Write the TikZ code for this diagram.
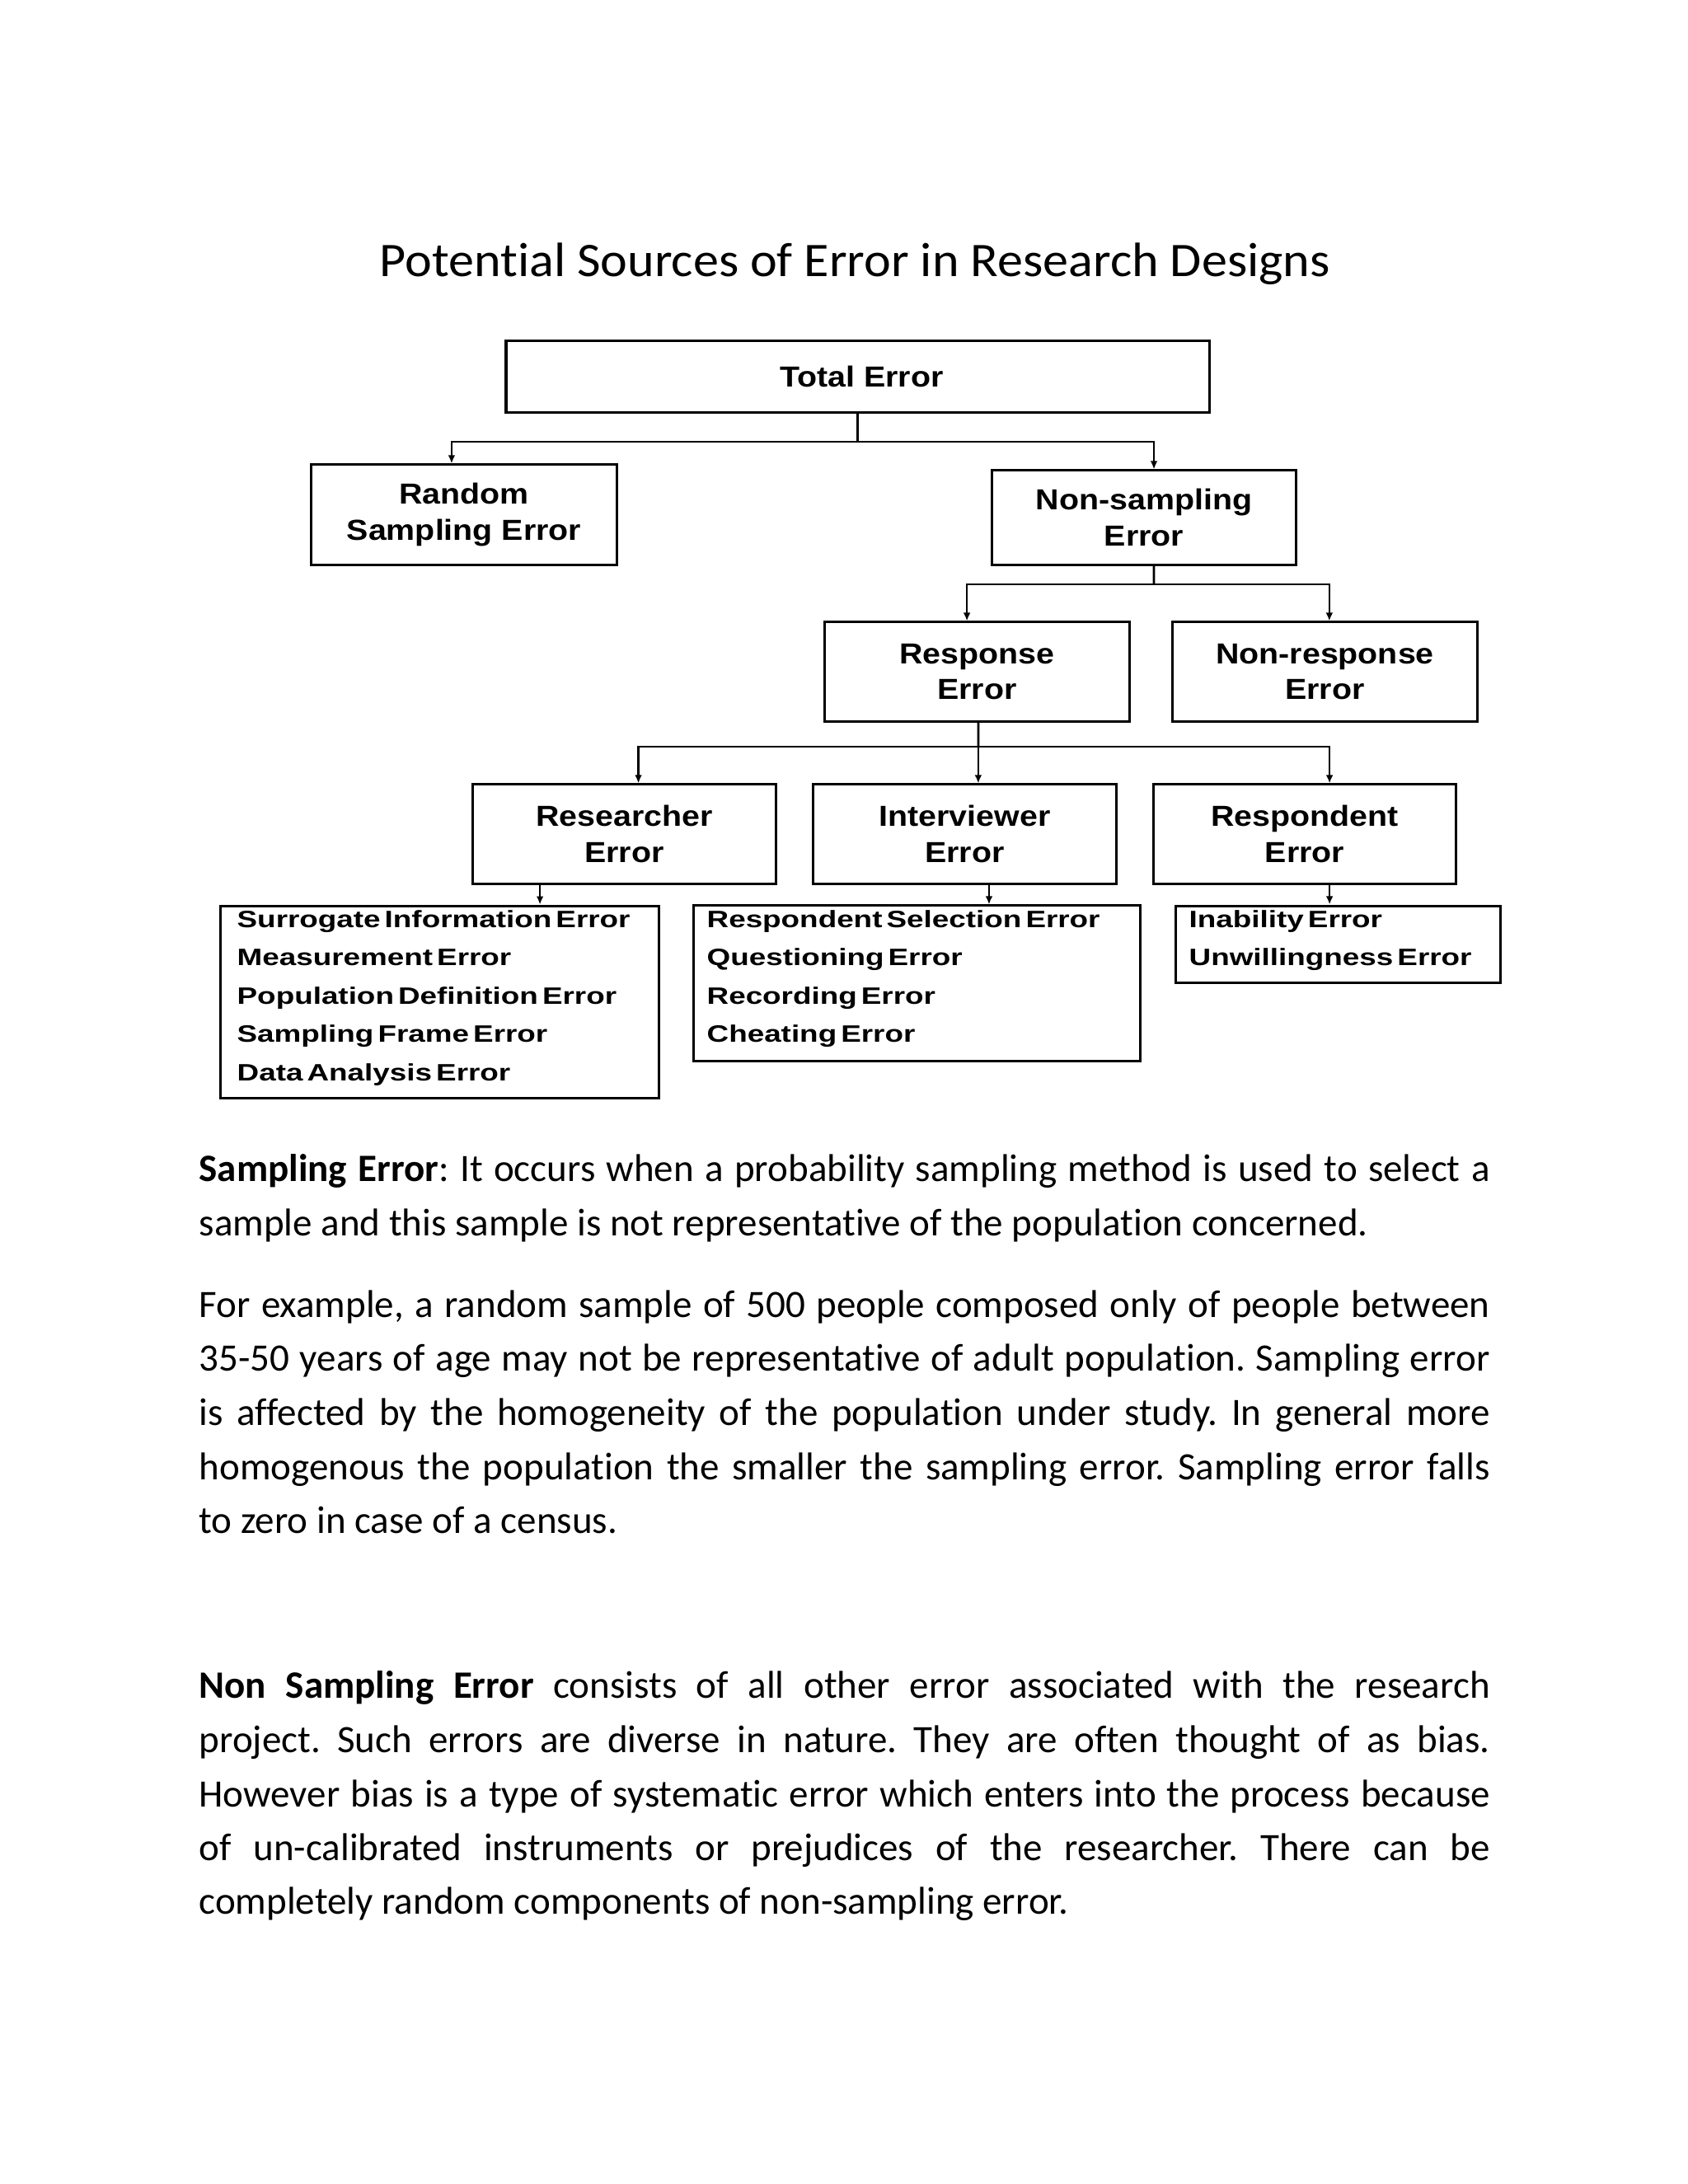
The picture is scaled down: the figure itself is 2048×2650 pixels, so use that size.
\documentclass[tikz,border=0pt]{standalone}
\usepackage{fontspec}
\setmainfont{Carlito}[Ligatures=CommonOff]
\newfontfamily\boxfont{Liberation Sans}[FakeStretch=1.12]
\newfontfamily\listfont{Liberation Sans}[FakeStretch=1.28,WordSpace=0.5]
\usetikzlibrary{arrows.meta}
\frenchspacing
\begin{document}
\begin{tikzpicture}[x=0.29883pt,y=-0.29883pt,
  box/.style={draw,line width=0.9pt,inner sep=0pt,align=center,
    font=\boxfont\bfseries\fontsize{10.5}{13.1}\selectfont},
  listbox/.style={draw,line width=0.9pt,inner sep=0pt},
  item/.style={anchor=base west,inner sep=0pt,font=\listfont\bfseries\fontsize{8.6}{10}\selectfont},
  para/.style={anchor=base west,inner sep=0pt,font=\fontsize{14.05}{16}\selectfont},
  conn/.style={line width=0.8pt},
  arr/.style={line width=0.8pt,-{Latex[length=3pt,width=2.6pt]}}]
\fill[white] (0,0) rectangle (2048,2650);
\useasboundingbox (0,0) rectangle (2048,2650);

\node[anchor=base west,inner sep=0pt,font=\fontsize{17.5}{20}\selectfont] (title) at (460,335) {\scalebox{1.06}[1]{Potential Sources of Error in Research Designs}};

\node[box,minimum width=254.9pt,minimum height=26pt] (total) at (1040.5,456.5) {\hspace*{3pt}Total Error};
\node[box,minimum width=110.6pt,minimum height=36.2pt] (random) at (563,624.5) {Random\\Sampling Error};
\node[box,minimum width=110.0pt,minimum height=34.1pt] (nonsamp) at (1388,628) {Non-sampling\\Error};
\node[box,minimum width=110.3pt,minimum height=35.9pt] (response) at (1185.5,815) {Response\\Error};
\node[box,minimum width=110.3pt,minimum height=35.9pt] (nonresp) at (1607.5,815) {Non-response\\Error};
\node[box,minimum width=109.7pt,minimum height=35.9pt] (researcher) at (757.5,1012) {Researcher\\Error};
\node[box,minimum width=109.7pt,minimum height=35.9pt] (interviewer) at (1170.5,1012) {Interviewer\\Error};
\node[box,minimum width=109.7pt,minimum height=35.9pt] (respondent) at (1583,1012) {Respondent\\Error};

\node[listbox,minimum width=158.7pt,minimum height=69.9pt] (listA) at (533.5,1216) {};
\node[listbox,minimum width=161.7pt,minimum height=56.2pt] (listB) at (1112.5,1193) {};
\node[listbox,minimum width=118.0pt,minimum height=27.8pt] (listC) at (1623.5,1145.5) {};

\node[item] (a1) at (287,1125) {Surrogate Information Error};
\node[item] (a2) at (287,1171.6) {Measurement Error};
\node[item] (a3) at (287,1218.2) {Population Definition Error};
\node[item] (a4) at (287,1264.8) {Sampling Frame Error};
\node[item] (a5) at (287,1311.4) {Data Analysis Error};
\node[item] (b1) at (857,1125) {Respondent Selection Error};
\node[item] (b2) at (857,1171.6) {Questioning Error};
\node[item] (b3) at (857,1218.2) {Recording Error};
\node[item] (b4) at (857,1264.8) {Cheating Error};
\node[item] (c1) at (1442,1125) {Inability Error};
\node[item] (c2) at (1442,1171.6) {Unwillingness Error};

% connectors
\coordinate (j1) at (1040.5,536);
\draw[conn] (total.south) -- (j1);
\draw[arr] (j1) -| ([xshift=-4.5pt]random.north);
\draw[arr] (j1) -| ([xshift=3.6pt]nonsamp.north);
\coordinate (j2) at (1400,709);
\draw[conn] ([xshift=3.6pt]nonsamp.south) -- (j2);
\draw[arr] (j2) -| ([xshift=-3.7pt]response.north);
\draw[arr] (j2) -| ([xshift=1.6pt]nonresp.north);
\coordinate (j3) at (1187,906);
\draw[conn] ([xshift=0.45pt]response.south) -- (j3);
\draw[arr] (j3) -| ([xshift=5.1pt]researcher.north);
\draw[arr] (j3) -| ([xshift=4.9pt]interviewer.north);
\draw[arr] (j3) -| ([xshift=9.0pt]respondent.north);
\coordinate (r1) at ([xshift=-30.6pt]researcher.south);
\coordinate (r2) at ([xshift=8.8pt]interviewer.south);
\coordinate (r3) at ([xshift=9.0pt]respondent.south);
\draw[arr] (r1) -- (r1 |- listA.north);
\draw[arr] (r2) -- (r2 |- listB.north);
\draw[arr] (r3) -- (r3 |- listC.north);

% body text
\node[para] (p1a) at (241,1433) {\makebox[468pt][s]{\textbf{Sampling Error}: It occurs when a probability sampling method is used to select a}};
\node[para] (p1b) at (241,1499) {sample and this sample is not representative of the population concerned.};
\node[para] (p2a) at (241,1598) {\makebox[468pt][s]{For example, a random sample of 500 people composed only of people between}};
\node[para] (p2b) at (241,1663) {\makebox[468pt][s]{35-50 years of age may not be representative of adult population. Sampling error}};
\node[para] (p2c) at (241,1729) {\makebox[468pt][s]{is affected by the homogeneity of the population under study. In general more}};
\node[para] (p2d) at (241,1795) {\makebox[468pt][s]{homogenous the population the smaller the sampling error. Sampling error falls}};
\node[para] (p2e) at (241,1860) {to zero in case of a census.};
\node[para] (p3a) at (241,2060) {\makebox[468pt][s]{\textbf{Non Sampling Error} consists of all other error associated with the research}};
\node[para] (p3b) at (241,2126) {\makebox[468pt][s]{project. Such errors are diverse in nature. They are often thought of as bias.}};
\node[para] (p3c) at (241,2192) {\makebox[468pt][s]{However bias is a type of systematic error which enters into the process because}};
\node[para] (p3d) at (241,2257) {\makebox[468pt][s]{of un-calibrated instruments or prejudices of the researcher. There can be}};
\node[para] (p3e) at (241,2322) {completely random components of non-sampling error.};
\end{tikzpicture}
\end{document}
